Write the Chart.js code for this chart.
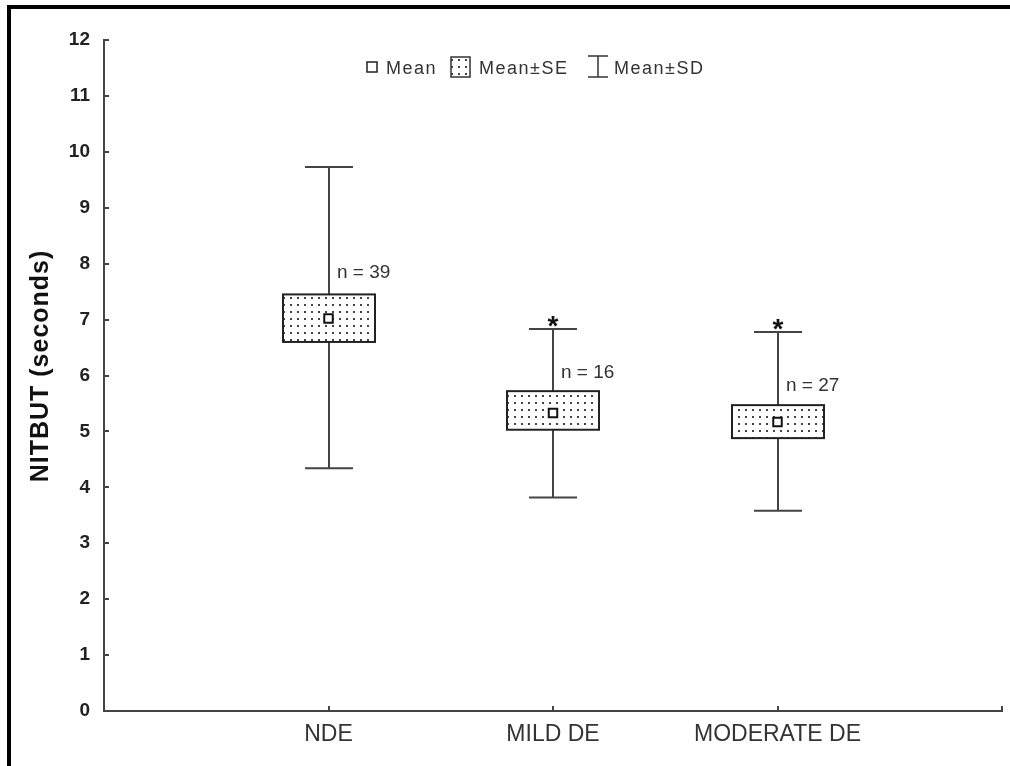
<!DOCTYPE html>
<html>
<head>
<meta charset="utf-8">
<script src="https://cdn.jsdelivr.net/npm/chart.js@4.4.1/dist/chart.umd.min.js"></script>
<style>
  html, body { margin: 0; padding: 0; background: #fff; }
  #wrap { width: 1010px; height: 766px; }
</style>
</head>
<body>
<div id="wrap"><canvas id="grafico" width="1010" height="766"></canvas></div>
<script>
// Datos
const categorias = ['NDE', 'MILD DE', 'MODERATE DE'];
const posiciones = [1, 2, 3];
const medias = [7.02, 5.33, 5.17];
const seBajo = [6.60, 5.03, 4.88];
const seAlto = [7.45, 5.72, 5.47];
const sdBajo = [4.34, 3.82, 3.58];
const sdAlto = [9.73, 6.83, 6.78];
const etiquetasN = ['n = 39', 'n = 16', 'n = 27'];
const etiquetasNY = [7.75, 5.95, 5.72];
const marcas = ['', '*', '*'];
const ticksY = [0, 1, 2, 3, 4, 5, 6, 7, 8, 9, 10, 11, 12];

const FUENTE = '"Liberation Sans", Arial, sans-serif';

// Patron de puntos para las cajas
function crearPatron(ctx) {
    const c = document.createElement('canvas');
    c.width = 7; c.height = 7;
    const p = c.getContext('2d');
    p.fillStyle = '#fff';
    p.fillRect(0, 0, 7, 7);
    p.fillStyle = '#444';
    p.fillRect(3, 3, 2, 2);
    return ctx.createPattern(c, 'repeat');
}

const dibujoCajas = {
    id: 'dibujoCajas',
    beforeDraw(chart) {
        const ctx = chart.ctx;
        // marco negro superior e izquierdo
        ctx.save();
        ctx.fillStyle = '#000';
        ctx.fillRect(7, 5, 1003, 4);
        ctx.fillRect(7, 5, 4, 761);
        ctx.restore();
    },
    beforeDatasetsDraw(chart) {
        const ctx = chart.ctx;
        const x = chart.scales.x, y = chart.scales.y;
        const patron = crearPatron(ctx);
        ctx.save();
        posiciones.forEach((pos, i) => {
            const cx = Math.round(x.getPixelForValue(pos));
            const yTop = y.getPixelForValue(sdAlto[i]);
            const yBot = y.getPixelForValue(sdBajo[i]);
            // bigotes SD
            ctx.strokeStyle = '#444';
            ctx.lineWidth = 2;
            ctx.beginPath();
            ctx.moveTo(cx, yTop); ctx.lineTo(cx, yBot);
            ctx.moveTo(cx - 24, yTop); ctx.lineTo(cx + 24, yTop);
            ctx.moveTo(cx - 24, yBot); ctx.lineTo(cx + 24, yBot);
            ctx.stroke();
            // caja SE
            const b1 = y.getPixelForValue(seAlto[i]);
            const b2 = y.getPixelForValue(seBajo[i]);
            ctx.fillStyle = patron;
            ctx.fillRect(cx - 46, b1, 92, b2 - b1);
            ctx.strokeStyle = '#222';
            ctx.strokeRect(cx - 46, b1, 92, b2 - b1);
            // etiqueta n
            ctx.fillStyle = '#333';
            ctx.font = '19px ' + FUENTE;
            ctx.textAlign = 'left';
            ctx.textBaseline = 'alphabetic';
            ctx.fillText(etiquetasN[i], cx + 8, y.getPixelForValue(etiquetasNY[i]));
            // asterisco
            if (marcas[i]) {
                ctx.fillStyle = '#111';
                ctx.font = 'bold 28px ' + FUENTE;
                ctx.textAlign = 'center';
                ctx.fillText(marcas[i], cx, yTop + 6);
            }
        });
        ctx.restore();
    },
    afterDraw(chart) {
        const ctx = chart.ctx;
        const x = chart.scales.x, y = chart.scales.y;
        const area = chart.chartArea;
        ctx.save();
        // marcas de los ejes hacia dentro
        ctx.strokeStyle = '#444';
        ctx.lineWidth = 2;
        ctx.beginPath();
        ticksY.forEach(v => {
            const py = Math.round(y.getPixelForValue(v));
            ctx.moveTo(area.left, py); ctx.lineTo(area.left + 5, py);
        });
        posiciones.concat([4]).forEach(v => {
            const px = Math.round(x.getPixelForValue(v));
            ctx.moveTo(px, area.bottom); ctx.lineTo(px, area.bottom - 5);
        });
        ctx.stroke();

        // titulo del eje Y
        ctx.fillStyle = '#111';
        ctx.font = 'bold 25px ' + FUENTE;
        ctx.letterSpacing = '1px';
        ctx.textAlign = 'center';
        ctx.textBaseline = 'middle';
        ctx.translate(41, 366);
        ctx.rotate(-Math.PI / 2);
        ctx.fillText('NITBUT (seconds)', 0, 0);
        ctx.setTransform(1, 0, 0, 1, 0, 0);

        // leyenda
        ctx.letterSpacing = '1.5px';
        ctx.font = '18px ' + FUENTE;
        ctx.textAlign = 'left';
        ctx.textBaseline = 'alphabetic';
        ctx.lineWidth = 1.5;
        ctx.strokeStyle = '#222';
        ctx.fillStyle = '#fff';
        ctx.fillRect(367, 62, 10, 10);
        ctx.strokeRect(367, 62, 10, 10);
        ctx.fillStyle = '#333';
        ctx.fillText('Mean', 386, 74);
        ctx.fillStyle = crearPatron(ctx);
        ctx.fillRect(451, 57, 19, 20);
        ctx.strokeStyle = '#333';
        ctx.strokeRect(451, 57, 19, 20);
        ctx.fillStyle = '#333';
        ctx.fillText('Mean\u00B1SE', 479, 74);
        ctx.beginPath();
        ctx.moveTo(588, 56); ctx.lineTo(608, 56);
        ctx.moveTo(598, 56); ctx.lineTo(598, 77);
        ctx.moveTo(588, 77); ctx.lineTo(608, 77);
        ctx.stroke();
        ctx.fillText('Mean\u00B1SD', 614, 74);
        ctx.restore();
    }
};

new Chart(document.getElementById('grafico'), {
    type: 'scatter',
    data: {
        datasets: [{
            label: 'Mean',
            data: posiciones.map((p, i) => ({ x: p, y: medias[i] })),
            pointStyle: 'rect',
            pointRadius: 6,
            pointBackgroundColor: '#fff',
            pointBorderColor: '#111',
            pointBorderWidth: 2
        }]
    },
    options: {
        responsive: false,
        animation: false,
        devicePixelRatio: 1,
        layout: { padding: { top: 40, right: 4, left: 0, bottom: 0 } },
        plugins: {
            legend: { display: false },
            tooltip: { enabled: false }
        },
        scales: {
            x: {
                type: 'linear',
                min: 0,
                max: 4,
                afterBuildTicks: s => { s.ticks = posiciones.map(v => ({ value: v })); },
                afterFit: s => { s.height = 55; },
                grid: { display: false, drawTicks: false },
                border: { display: true, color: '#444', width: 2 },
                ticks: {
                    padding: 10,
                    color: '#333',
                    font: { family: FUENTE, size: 23 },
                    callback: v => categorias[posiciones.indexOf(v)] || ''
                }
            },
            y: {
                min: 0,
                max: 12,
                afterBuildTicks: s => { s.ticks = ticksY.map(v => ({ value: v })); },
                afterFit: s => { s.width = 104; },
                grid: { display: false, drawTicks: false },
                border: { display: true, color: '#444', width: 2 },
                ticks: {
                    padding: 14,
                    color: '#222',
                    font: { family: FUENTE, size: 19, weight: 'bold' }
                }
            }
        }
    },
    plugins: [dibujoCajas]
});
</script>
</body>
</html>
